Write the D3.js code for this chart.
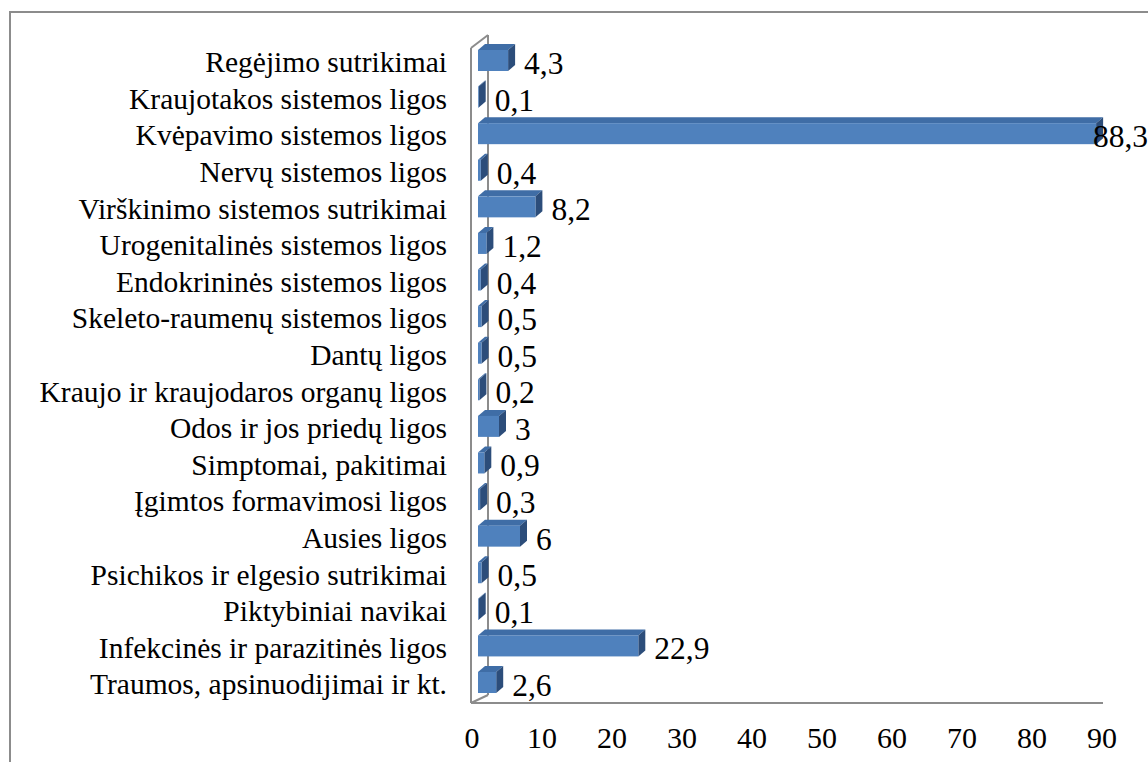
<!DOCTYPE html>
<html><head><meta charset="utf-8">
<script src="https://cdn.jsdelivr.net/npm/d3@7"></script>
<style>body{margin:0;background:#fff}svg{display:block}</style>
</head><body>
<script>
const categories = ["Regėjimo sutrikimai","Kraujotakos sistemos ligos","Kvėpavimo sistemos ligos","Nervų sistemos ligos","Virškinimo sistemos sutrikimai","Urogenitalinės sistemos ligos","Endokrininės sistemos ligos","Skeleto-raumenų sistemos ligos","Dantų ligos","Kraujo ir kraujodaros organų ligos","Odos ir jos priedų ligos","Simptomai, pakitimai","Įgimtos formavimosi ligos","Ausies ligos","Psichikos ir elgesio sutrikimai","Piktybiniai navikai","Infekcinės ir parazitinės ligos","Traumos, apsinuodijimai ir kt."];
const values = [4.3,0.1,88.3,0.4,8.2,1.2,0.4,0.5,0.5,0.2,3,0.9,0.3,6,0.5,0.1,22.9,2.6];
const ticks = [0,10,20,30,40,50,60,70,80,90];

const W = 1148, H = 762;
const svg = d3.select("body").append("svg").attr("width", W).attr("height", H);
const font = "'Liberation Serif','Times New Roman',serif";
const gray = "#8c8c8c";

svg.append("rect").attr("x", 10).attr("y", 12).attr("width", 1160).attr("height", 780)
  .attr("fill", "none").attr("stroke", gray).attr("stroke-width", 2);

const x = d3.scaleLinear().domain([0, 90]).range([472, 1102]);
const y = d3.scaleBand().domain(categories).range([43.7, 702.3]).padding(0);

const DX = 17, DYT = -13, DYB = -8;
const x0 = x(0) - 1;
// back wall line (behind bars)
svg.append("line").attr("x1", x0 + DX).attr("x2", x0 + DX).attr("y1", 48 + DYT).attr("y2", 703 + DYB)
  .attr("stroke", gray).attr("stroke-width", 2);
svg.append("line").attr("x1", x0).attr("y1", 48).attr("x2", x0 + DX).attr("y2", 48 + DYT)
  .attr("stroke", gray).attr("stroke-width", 2);
svg.append("line").attr("x1", x0).attr("y1", 703).attr("x2", x0 + DX).attr("y2", 703 + DYB)
  .attr("stroke", gray).attr("stroke-width", 2);

// bars
const bh = 21, bdx = 7, bdy = -6, off = 6;
const g = svg.append("g");
categories.forEach((c, i) => {
  const v = values[i];
  const xa = x(0) + off, xb = x(v) + off;
  const yt = y(c) + y.bandwidth() / 2 - 1.5 - bh / 2;
  g.append("path").attr("d", `M${xa},${yt} L${xa + bdx},${yt + bdy} L${xb + bdx},${yt + bdy} L${xb},${yt} Z`)
    .attr("fill", "#3F6DA6");
  g.append("path").attr("d", `M${xb},${yt} L${xb + bdx},${yt + bdy} L${xb + bdx},${yt + bdy + bh} L${xb},${yt + bh} Z`)
    .attr("fill", "#2C4D7A");
  g.append("rect").attr("x", xa).attr("y", yt).attr("width", Math.max(0, xb - xa)).attr("height", bh)
    .attr("fill", "#4F81BD");
});

// front wall line and floor
svg.append("line").attr("x1", x0).attr("x2", x0).attr("y1", 48).attr("y2", 703)
  .attr("stroke", gray).attr("stroke-width", 2);
svg.append("line").attr("x1", x0).attr("x2", x(90) + 1).attr("y1", 703).attr("y2", 703)
  .attr("stroke", gray).attr("stroke-width", 2);

// category labels
svg.append("g").selectAll("text").data(categories).join("text")
  .attr("x", 447).attr("y", d => y(d) + y.bandwidth() / 2).attr("dy", "0.35em")
  .attr("text-anchor", "end").attr("font-family", font).attr("font-size", 29.5).attr("fill", "#000")
  .text(d => d);

// value labels
const fmt = v => String(v).replace(".", ",");
svg.append("g").selectAll("text").data(values).join("text")
  .attr("y", (d, i) => y(categories[i]) + y.bandwidth() / 2 + 1).attr("dy", "0.35em")
  .attr("font-family", font).attr("font-size", 31.5).attr("fill", "#000")
  .text(d => fmt(d))
  .attr("x", function(d) {
    const w = this.getComputedTextLength();
    return Math.min(x(d) + 22, W - w);
  });

// x axis tick labels
svg.append("g").selectAll("text").data(ticks).join("text")
  .attr("x", d => x(d)).attr("y", 748)
  .attr("text-anchor", "middle").attr("font-family", font).attr("font-size", 30).attr("fill", "#000")
  .text(d => d);
</script>
</body></html>
